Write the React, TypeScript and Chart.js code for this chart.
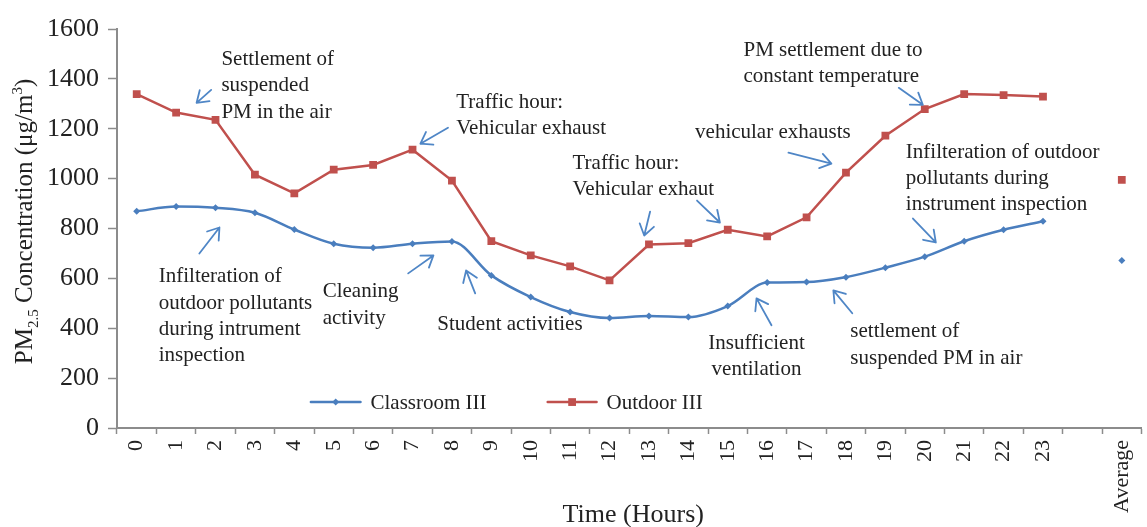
import React, { useEffect, useRef } from 'react';
import { Chart, registerables } from 'chart.js';

Chart.register(...registerables);

const FONT = "'Liberation Serif', 'Times New Roman', serif";

// ---- data ----
const hourLabels = ['0','1','2','3','4','5','6','7','8','9','10','11','12','13','14','15','16','17','18','19','20','21','22','23','','Average'];
const classroomIII = [869, 888, 883, 863, 796, 739, 723, 739, 748, 612, 525, 465, 441, 449, 445, 489, 583, 585, 605, 643, 687, 749, 795, 829, null, 672];
const outdoorIII = [1339, 1265, 1236, 1016, 941, 1036, 1055, 1116, 992, 749, 692, 648, 592, 736, 741, 795, 768, 845, 1024, 1172, 1279, 1339, 1335, 1329, null, 995];
const yMin = 0;
const yMax = 1600;
const yStep = 200;
const xTitle = 'Time (Hours)';

// annotation notes: x in category units, y in data units (baseline of first line)
const noteLines = [
  ['Settlement of', 'suspended', 'PM in the air'],
  ['Infilteration of', 'outdoor pollutants', 'during intrument', 'inspection'],
  ['Cleaning', 'activity'],
  ['Student activities'],
  ['Traffic hour:', 'Vehicular exhaust'],
  ['Traffic hour:', 'Vehicular exhaut'],
  ['vehicular exhausts'],
  ['PM settlement due to', 'constant temperature'],
  ['Infilteration of outdoor', 'pollutants during', 'instrument inspection'],
  ['Insufficient', 'ventilation'],
  ['settlement of', 'suspended PM in air'],
];
const noteX = [2.15, 0.56, 4.72, 7.63, 8.11, 11.06, 14.17, 15.40, 19.52, 15.73, 18.11];
const noteY = [1456, 584, 524, 392, 1284, 1040, 1164, 1492, 1084, 316, 364];
const noteAlign = ['left','left','left','left','left','left','left','left','left','center','left'];

// arrows: [fromX, fromY, toX, toY] in data units
const arrows = [
  [1.89, 1356, 1.52, 1304],
  [1.59, 700, 2.10, 804],
  [6.89, 620, 7.53, 692],
  [8.59, 540, 8.36, 632],
  [7.90, 1204, 7.20, 1140],
  [13.03, 868, 12.88, 772],
  [14.22, 912, 14.80, 824],
  [16.54, 1104, 17.63, 1060],
  [19.34, 1364, 19.95, 1296],
  [19.70, 840, 20.28, 744],
  [16.11, 412, 15.73, 520],
  [18.16, 460, 17.68, 552],
];

// legend placement (category units / data units)
const legendSpots = [
  [4.42, 5.68, 104],
  [10.43, 11.67, 104],
];

const BLUE = '#4A7EBE';
const RED = '#C0504D';
const ARROW = '#4F86C6';
const TEXT = '#222222';
const AXIS = '#8C8C8C';

const overlayPlugin = {
  id: 'overlay',
  afterDatasetsDraw(chart: any) {
    const { ctx, scales } = chart;
    const xs = scales.x;
    const ys = scales.y;
    ctx.save();
    // notes
    ctx.fillStyle = TEXT;
    ctx.font = `21px ${FONT}`;
    ctx.textBaseline = 'alphabetic';
    noteLines.forEach((lines, i) => {
      const px = xs.getPixelForValue(noteX[i]);
      const py = ys.getPixelForValue(noteY[i]);
      ctx.textAlign = noteAlign[i] as CanvasTextAlign;
      lines.forEach((t, j) => ctx.fillText(t, px, py + j * 26.3));
    });
    // arrows
    ctx.strokeStyle = ARROW;
    ctx.lineWidth = 1.8;
    ctx.lineCap = 'round';
    ctx.lineJoin = 'round';
    arrows.forEach(([fx, fy, tx, ty]) => {
      const x1 = xs.getPixelForValue(fx), y1 = ys.getPixelForValue(fy);
      const x2 = xs.getPixelForValue(tx), y2 = ys.getPixelForValue(ty);
      const ang = Math.atan2(y2 - y1, x2 - x1);
      const L = 13, a = 0.6;
      ctx.beginPath();
      ctx.moveTo(x1, y1);
      ctx.lineTo(x2, y2);
      ctx.moveTo(x2 - L * Math.cos(ang - a), y2 - L * Math.sin(ang - a));
      ctx.lineTo(x2, y2);
      ctx.lineTo(x2 - L * Math.cos(ang + a), y2 - L * Math.sin(ang + a));
      ctx.stroke();
    });
    // legend
    chart.data.datasets.forEach((ds: any, i: number) => {
      const [a, b, v] = legendSpots[i];
      const x1 = xs.getPixelForValue(a), x2 = xs.getPixelForValue(b), y = ys.getPixelForValue(v);
      ctx.strokeStyle = ds.borderColor;
      ctx.lineWidth = ds.borderWidth;
      ctx.beginPath();
      ctx.moveTo(x1, y);
      ctx.lineTo(x2, y);
      ctx.stroke();
      ctx.fillStyle = ds.pointBackgroundColor;
      ctx.beginPath();
      const mx = (x1 + x2) / 2;
      if (ds.pointStyle === 'rect') {
        const s = ds.pointRadius / Math.SQRT2;
        ctx.rect(mx - s, y - s, 2 * s, 2 * s);
      } else {
        const r = ds.pointRadius;
        ctx.moveTo(mx - r, y); ctx.lineTo(mx, y - r); ctx.lineTo(mx + r, y); ctx.lineTo(mx, y + r); ctx.closePath();
      }
      ctx.fill();
      ctx.fillStyle = TEXT;
      ctx.font = `21px ${FONT}`;
      ctx.textAlign = 'left';
      ctx.textBaseline = 'middle';
      ctx.fillText(ds.label, x2 + 10, y + 1);
    });
    ctx.restore();
  },
  afterDraw(chart: any) {
    const { ctx, chartArea } = chart;
    ctx.save();
    // x axis title
    ctx.fillStyle = TEXT;
    ctx.font = `26px ${FONT}`;
    ctx.textAlign = 'center';
    ctx.textBaseline = 'alphabetic';
    ctx.fillText(xTitle, (chartArea.left + chartArea.right) / 2 + 4, 522);
    // y axis title with sub/superscript
    const segs = [
      { t: 'PM', size: 25, dy: 0 },
      { t: '2.5', size: 15, dy: 6 },
      { t: ' Concentration (\u03bcg/m', size: 25, dy: 0 },
      { t: '3', size: 15, dy: -10 },
      { t: ')', size: 25, dy: 0 },
    ];
    let total = 0;
    segs.forEach((s) => { ctx.font = `${s.size}px ${FONT}`; total += ctx.measureText(s.t).width; });
    const cy = (chartArea.top + chartArea.bottom) / 2 - 7;
    ctx.translate(32, cy);
    ctx.rotate(-Math.PI / 2);
    let x = -total / 2;
    ctx.textAlign = 'left';
    segs.forEach((s) => {
      ctx.font = `${s.size}px ${FONT}`;
      ctx.fillText(s.t, x, s.dy);
      x += ctx.measureText(s.t).width;
    });
    ctx.restore();
  },
};

export default function App() {
  const ref = useRef<HTMLCanvasElement | null>(null);
  useEffect(() => {
    if (!ref.current) return;
    const chart = new Chart(ref.current, {
      type: 'line',
      data: {
        labels: hourLabels,
        datasets: [
          {
            label: 'Classroom III',
            data: classroomIII,
            borderColor: BLUE,
            backgroundColor: BLUE,
            pointBackgroundColor: BLUE,
            pointBorderColor: BLUE,
            borderWidth: 2.5,
            pointStyle: 'rectRot',
            pointRadius: 3.5,
            pointBorderWidth: 0,
            cubicInterpolationMode: 'monotone',
            spanGaps: false,
          },
          {
            label: 'Outdoor III',
            data: outdoorIII,
            borderColor: RED,
            backgroundColor: RED,
            pointBackgroundColor: RED,
            pointBorderColor: RED,
            borderWidth: 2.5,
            pointStyle: 'rect',
            pointRadius: 5.5,
            pointBorderWidth: 0,
            tension: 0,
            spanGaps: false,
          },
        ],
      } as any,
      options: {
        animation: false,
        responsive: true,
        maintainAspectRatio: false,
        layout: { padding: { top: 29, right: 0, bottom: 0, left: 0 } },
        plugins: {
          legend: { display: false },
          tooltip: { enabled: false },
          title: { display: false },
        },
        scales: {
          x: {
            type: 'category',
            offset: true,
            grid: { offset: true, drawOnChartArea: false, tickLength: 6, color: AXIS, tickColor: AXIS, tickWidth: 1.5 },
            border: { color: AXIS, width: 2 },
            ticks: {
              autoSkip: false,
              maxRotation: 90,
              minRotation: 90,
              padding: 6,
              color: TEXT,
              font: { family: FONT, size: 22 },
            },
            afterFit: (s: any) => { s.height = 99; s.paddingRight = 0; s.paddingLeft = 0; },
          },
          y: {
            min: yMin,
            max: yMax,
            ticks: {
              stepSize: yStep,
              color: TEXT,
              padding: 9,
              font: { family: FONT, size: 26 },
              callback: (v: any) => String(v),
            },
            grid: { drawOnChartArea: false, tickLength: 9, color: AXIS, tickColor: AXIS, tickWidth: 1.5 },
            border: { color: AXIS, width: 2 },
            afterFit: (s: any) => { s.width = 117; },
          },
        },
      } as any,
      plugins: [overlayPlugin],
    });
    return () => chart.destroy();
  }, []);
  return (
    <div style={{ position: 'fixed', left: 0, top: 0, width: 1147, height: 527, background: '#fff' }}>
      <canvas ref={ref} />
    </div>
  );
}
